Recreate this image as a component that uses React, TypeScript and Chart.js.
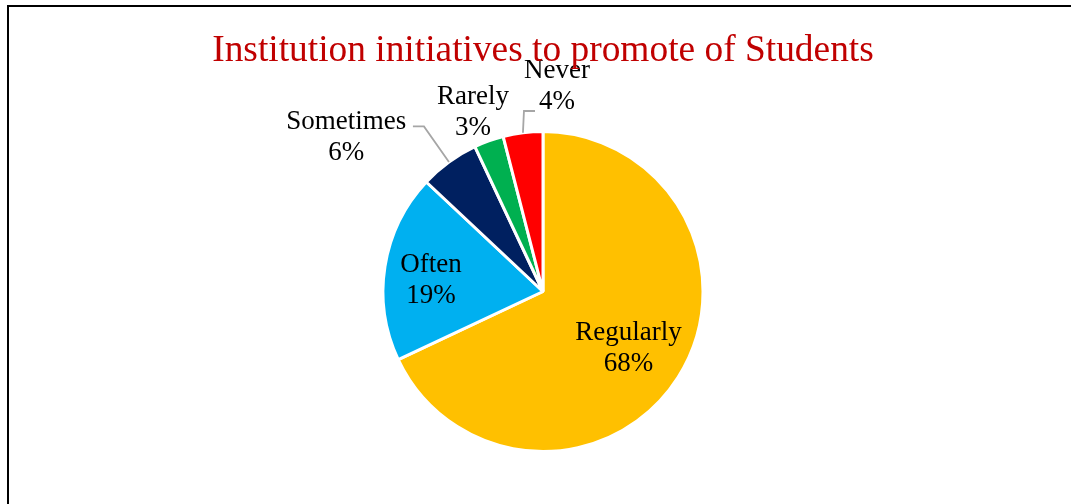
import React, { useEffect, useRef } from "react";
import { Chart, registerables } from "chart.js";

Chart.register(...registerables);

const titleText = "Institution initiatives to promote of Students";
const categories = ["Regularly", "Often", "Sometimes", "Rarely", "Never"];
const values = [68, 19, 6, 3, 4];
const colors = ["#FFC000", "#00B0F0", "#002060", "#00B050", "#FF0000"];
// label anchor (first-line baseline) relative to pie centre, in units of radius
const labelOffsets: [number, number][] = [
  [0.535, 0.3],
  [-0.7, -0.125],
  [-1.23, -1.013],
  [-0.438, -1.175],
  [0.088, -1.332],
];
// leader lines: [elbow dx, elbow dy, start dx, start dy] relative to centre in radius units, or null
const leaders: (number[] | null)[] = [
  null,
  null,
  [-0.744, -1.032, -0.813, -1.032],
  null,
  [-0.119, -1.128, -0.05, -1.128],
];

const FONT = '"Liberation Serif", "Times New Roman", serif';

const labelPlugin = {
  id: "customLabels",
  afterDatasetsDraw(chart: any) {
    const ctx = chart.ctx;
    const meta = chart.getDatasetMeta(0);
    const total = values.reduce((a, b) => a + b, 0);
    ctx.save();
    meta.data.forEach((arc: any, i: number) => {
      const { x, y, outerRadius, startAngle, endAngle } = arc.getProps(
        ["x", "y", "outerRadius", "startAngle", "endAngle"],
        true
      );
      const r = outerRadius;
      const lo = labelOffsets[i];
      const lx = x + lo[0] * r;
      const ly = y + lo[1] * r;
      const ld = leaders[i];
      if (ld) {
        const mid = (startAngle + endAngle) / 2;
        const ex = x + Math.cos(mid) * r;
        const ey = y + Math.sin(mid) * r;
        ctx.strokeStyle = "#A6A6A6";
        ctx.lineWidth = 1.8;
        ctx.beginPath();
        ctx.moveTo(x + ld[2] * r, y + ld[3] * r);
        ctx.lineTo(x + ld[0] * r, y + ld[1] * r);
        ctx.lineTo(ex, ey);
        ctx.stroke();
      }
      ctx.fillStyle = "#000";
      ctx.font = `27px ${FONT}`;
      ctx.textAlign = "center";
      ctx.textBaseline = "alphabetic";
      const pct = Math.round((values[i] / total) * 100) + "%";
      ctx.fillText(categories[i], lx, ly);
      ctx.fillText(pct, lx, ly + 31);
    });
    ctx.restore();
  },
  afterDraw(chart: any) {
    const ctx = chart.ctx;
    const meta = chart.getDatasetMeta(0);
    const cx = meta.data[0].x;
    ctx.save();
    ctx.fillStyle = "#C00000";
    ctx.font = `37.4px ${FONT}`;
    ctx.textAlign = "center";
    ctx.textBaseline = "alphabetic";
    ctx.fillText(titleText, cx, 61);
    ctx.fillStyle = "#000";
    ctx.fillRect(7, 5, chart.width - 7, 2);
    ctx.fillRect(7, 5, 2, chart.height - 5);
    ctx.restore();
  },
};

export default function App() {
  const ref = useRef<HTMLCanvasElement | null>(null);
  useEffect(() => {
    if (!ref.current) return;
    const chart = new Chart(ref.current, {
      type: "pie",
      data: {
        labels: categories,
        datasets: [
          {
            data: values,
            backgroundColor: colors,
            borderColor: "#FFFFFF",
            borderWidth: 3,
          },
        ],
      },
      options: {
        animation: false,
        responsive: false,
        devicePixelRatio: 1,
        layout: { padding: { top: 130, bottom: 51, left: 380, right: 365 } },
        plugins: {
          legend: { display: false },
          tooltip: { enabled: false },
          title: { display: false },
        },
      },
      plugins: [labelPlugin],
    });
    return () => chart.destroy();
  }, []);
  return (
    <div style={{ position: "fixed", left: 0, top: 0, width: 1071, height: 504, background: "#fff" }}>
      <canvas ref={ref} width={1071} height={504} style={{ display: "block" }} />
    </div>
  );
}
